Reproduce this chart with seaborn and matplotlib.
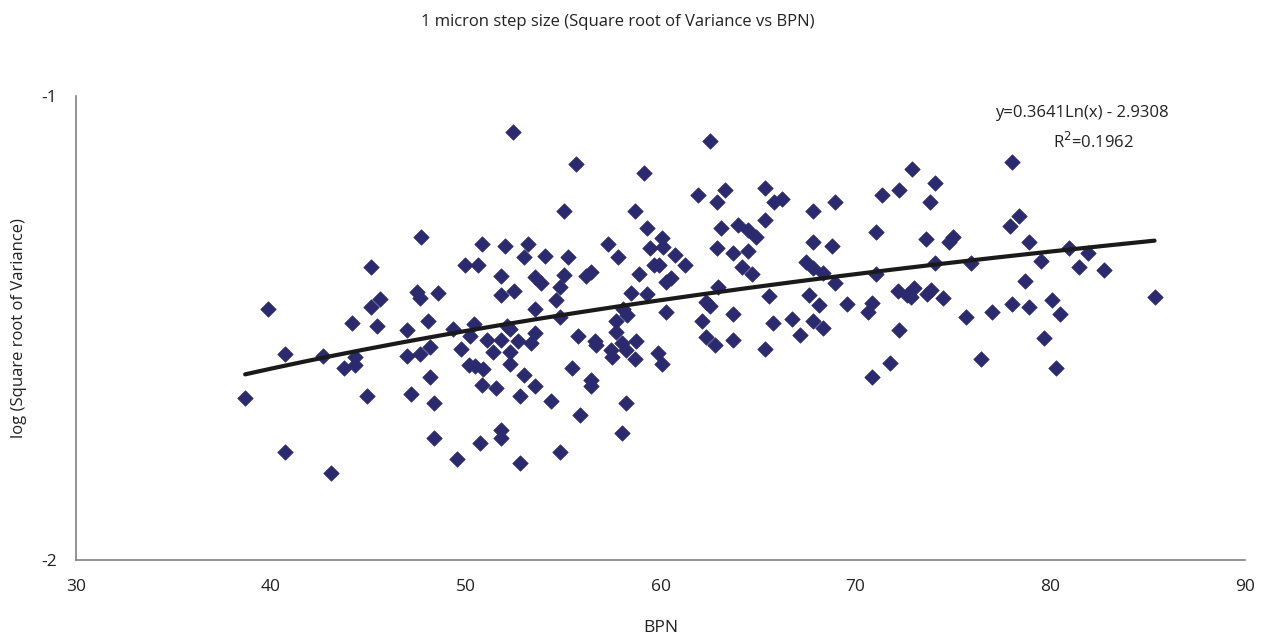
import numpy as np
import pandas as pd
import matplotlib
matplotlib.use("Agg")
import matplotlib.pyplot as plt
import seaborn as sns

# values
bpn = [
    45.16, 39.86, 45.59, 45.16, 44.17, 45.47, 40.73, 42.65, 44.31, 43.74,
    44.31, 38.68, 44.91, 40.73, 43.11,
    52.45, 47.73, 50.86, 52.04, 53.22, 52.97, 49.98, 50.65, 51.79, 53.55,
    47.50, 47.64, 48.60, 51.79, 52.46, 53.55, 48.05, 46.99, 50.41, 49.35,
    52.12, 52.29, 50.21, 53.54, 51.08, 51.83, 52.67, 53.37, 48.19, 47.64,
    46.99, 49.78, 51.40, 52.26, 52.26, 50.17, 50.46, 50.89, 48.15, 52.97,
    50.86, 51.57, 47.19, 53.55, 52.77, 48.37, 51.79, 51.79, 48.37, 50.72,
    49.55, 52.77,
    55.68, 59.13, 55.03, 58.68, 59.32, 60.09, 57.30, 59.44, 60.12, 54.05,
    55.25, 57.81, 60.73, 61.25, 59.66, 59.91, 53.88, 55.03, 54.82, 56.41,
    56.19, 58.89, 60.55, 60.29, 58.50, 59.32, 54.62, 54.82, 58.07, 58.27,
    60.29, 57.69, 55.78, 56.63, 56.70, 57.69, 58.72, 58.04, 57.47, 58.24,
    57.52, 58.68, 59.86, 60.09, 55.47, 56.41, 56.45, 54.37, 58.24, 55.88,
    58.04, 54.82,
    62.56, 61.91, 63.32, 62.89, 65.35, 65.81, 66.24, 68.96, 67.81, 65.35,
    63.09, 63.96, 64.48, 64.91, 62.89, 63.74, 64.51, 67.81, 68.78, 64.17,
    64.70, 67.47, 67.81, 68.36, 68.96, 62.97, 65.55, 67.61, 68.15, 62.34,
    62.55, 62.12, 63.74, 65.79, 66.75, 67.81, 68.36, 62.34, 62.77, 63.74,
    67.16, 65.35,
    72.89, 74.07, 71.37, 72.22, 73.85, 71.06, 73.63, 74.99, 74.82, 71.06,
    74.07, 75.91, 72.21, 72.63, 73.03, 72.86, 73.66, 73.88, 74.48, 69.55,
    70.86, 70.63, 75.68, 77.03, 72.22, 71.79, 70.84, 76.46,
    78.04, 78.37, 77.93, 78.89, 80.94, 81.91, 79.52, 81.49, 82.77, 78.70,
    78.04, 78.89, 80.09, 80.51, 85.35, 79.66, 80.29,
]
log_sd = [
    -1.368, -1.460, -1.438, -1.454, -1.490, -1.496, -1.556, -1.560, -1.563, -1.586,
    -1.580, -1.651, -1.646, -1.767, -1.813,
    -1.078, -1.303, -1.319, -1.323, -1.319, -1.348, -1.364, -1.364, -1.389, -1.391,
    -1.423, -1.436, -1.424, -1.429, -1.420, -1.459, -1.485, -1.504, -1.491, -1.503,
    -1.496, -1.503, -1.517, -1.511, -1.526, -1.526, -1.529, -1.533, -1.542, -1.557,
    -1.560, -1.546, -1.551, -1.551, -1.578, -1.580, -1.582, -1.589, -1.606, -1.601,
    -1.623, -1.630, -1.642, -1.626, -1.647, -1.662, -1.720, -1.738, -1.738, -1.747,
    -1.783, -1.792,
    -1.147, -1.167, -1.247, -1.247, -1.284, -1.307, -1.319, -1.328, -1.325, -1.344,
    -1.348, -1.348, -1.343, -1.365, -1.364, -1.364, -1.404, -1.386, -1.411, -1.379,
    -1.389, -1.384, -1.393, -1.400, -1.424, -1.427, -1.440, -1.476, -1.458, -1.472,
    -1.465, -1.485, -1.517, -1.529, -1.537, -1.509, -1.529, -1.532, -1.547, -1.547,
    -1.563, -1.567, -1.554, -1.578, -1.586, -1.612, -1.626, -1.657, -1.662, -1.687,
    -1.727, -1.768,
    -1.097, -1.213, -1.203, -1.228, -1.198, -1.228, -1.223, -1.228, -1.248, -1.267,
    -1.284, -1.278, -1.289, -1.303, -1.328, -1.339, -1.333, -1.314, -1.323, -1.368,
    -1.384, -1.357, -1.371, -1.382, -1.402, -1.411, -1.430, -1.429, -1.450, -1.443,
    -1.453, -1.485, -1.470, -1.490, -1.481, -1.485, -1.501, -1.519, -1.537, -1.526,
    -1.515, -1.546,
    -1.158, -1.187, -1.213, -1.203, -1.228, -1.294, -1.309, -1.303, -1.314, -1.384,
    -1.359, -1.359, -1.420, -1.429, -1.414, -1.433, -1.427, -1.418, -1.435, -1.449,
    -1.447, -1.466, -1.476, -1.465, -1.504, -1.576, -1.606, -1.566,
    -1.142, -1.258, -1.280, -1.314, -1.327, -1.339, -1.356, -1.368, -1.375, -1.399,
    -1.449, -1.455, -1.440, -1.470, -1.434, -1.521, -1.586,
]

# trend line printed on the chart
coef_a = 0.3641
coef_b = -2.9308
r_squared = 0.1962

df = pd.DataFrame({"BPN": bpn, "logsd": log_sd})

sns.set_style("white")
plt.rcParams["font.family"] = ["Open Sans", "DejaVu Sans"]

fig = plt.figure(figsize=(12.69, 6.40), dpi=100)
ax = fig.add_axes([0.0599, 0.125, 0.9213, 0.725])

sns.scatterplot(data=df, x="BPN", y="logsd", marker="D", s=62,
                color="#2b2a6e", edgecolor="#2b2a6e", linewidth=0.5,
                ax=ax, zorder=3)

xs = np.linspace(min(bpn), max(bpn), 300)
sns.lineplot(x=xs, y=coef_a * np.log(xs) + coef_b, color="#1a1a1a",
             linewidth=3, ax=ax, zorder=4)

ax.set_xlim(30, 90)
ax.set_ylim(-2, -1)
ax.set_xticks([30, 40, 50, 60, 70, 80, 90])
ax.set_yticks([-2, -1])
ax.set_yticklabels(["-2", "-1"])
ax.tick_params(axis="both", direction="out", length=6, width=1.2,
               color="#808080", labelsize=12.5, labelcolor="#222222", pad=8)

for side in ["top", "right"]:
    ax.spines[side].set_visible(False)
for side in ["left", "bottom"]:
    ax.spines[side].set_color("#808080")
    ax.spines[side].set_linewidth(1.2)

ax.set_xlabel("BPN", fontsize=12.5, color="#222222", labelpad=18)
ax.set_ylabel("log (Square root of Variance)", fontsize=12, color="#222222",
              labelpad=10)

fig.text(0.487, 0.965, "1 micron step size (Square root of Variance vs BPN)",
         ha="center", va="center", fontsize=12, color="#222222")

ax.text(81.6, -1.037, "y=0.3641Ln(x) - 2.9308", ha="center", va="center",
        fontsize=12, color="#222222")
ax.text(82.2, -1.100, "R$^2$=0.1962", ha="center", va="center",
        fontsize=12, color="#222222")

fig.savefig("out.png", dpi=100)
